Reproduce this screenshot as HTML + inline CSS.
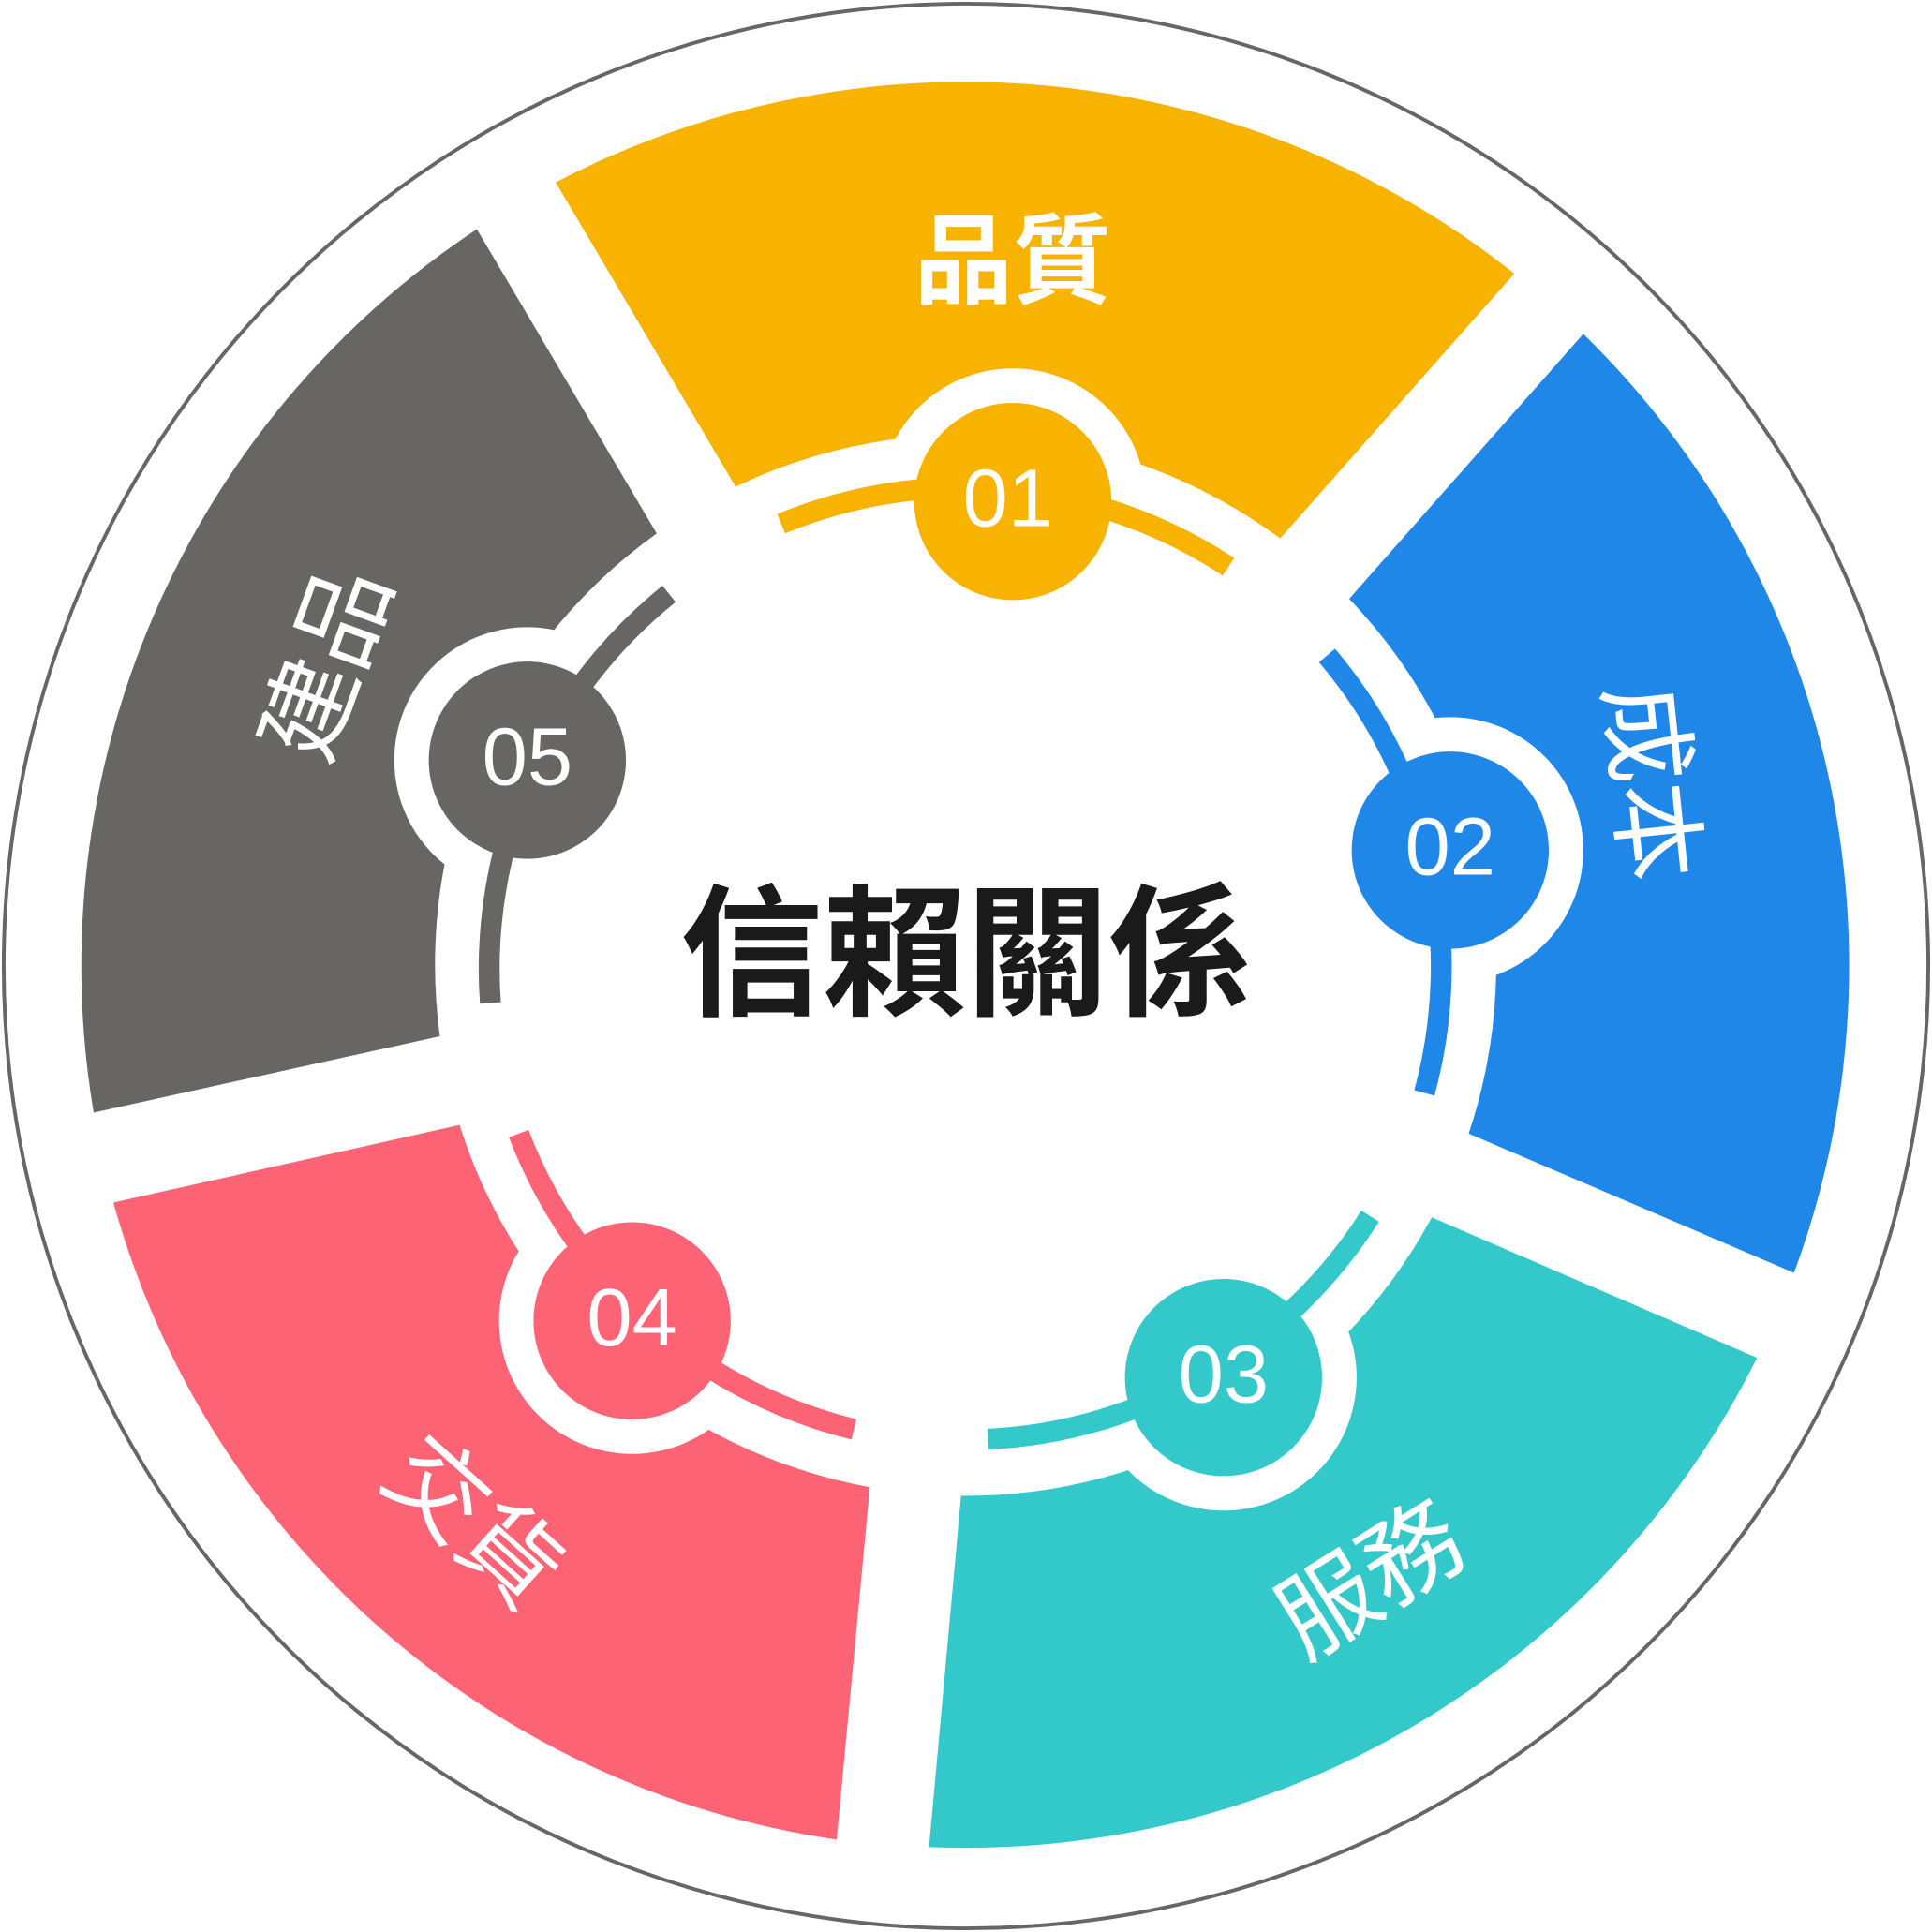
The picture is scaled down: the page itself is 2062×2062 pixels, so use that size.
<!DOCTYPE html>
<html><head><meta charset="utf-8"><style>html,body{margin:0;padding:0;background:#fff}svg{display:block}</style></head>
<body>
<svg width="2062" height="2062" viewBox="0 0 1568 1568" xmlns="http://www.w3.org/2000/svg">
<circle cx="784" cy="784" r="781" fill="#fff" stroke="#666" stroke-width="3"/>
<path d="M451,148 A717,717 0 0 1 1229,222 L1039,437 A430,430 0 0 0 597,395 Z" fill="#F8B200"/>
<path d="M1285,271 A717,717 0 0 1 1456,1033 L1192,920 A430,430 0 0 0 1095,486 Z" fill="#1F87E8"/>
<path d="M1426,1102 A717,717 0 0 1 754,1499 L780,1214 A430,430 0 0 0 1162,988 Z" fill="#33C9CA"/>
<path d="M679,1493 A717,717 0 0 1 92,976 L373,913 A430,430 0 0 0 706,1207 Z" fill="#FC6476"/>
<path d="M76,903 A717,717 0 0 1 387,186 L533,433 A430,430 0 0 0 357,841 Z" fill="#686664"/>
<g fill="#fff">
<circle cx="822" cy="407" r="108"/><circle cx="1177" cy="690" r="108"/><circle cx="993" cy="1118" r="108"/><circle cx="513" cy="1072" r="108"/><circle cx="428" cy="617" r="108"/>
</g>
<g fill="none" stroke-width="17">
<path d="M634,425 A390,390 0 0 1 997,460" stroke="#F8B200"/>
<path d="M1077,532 A390,390 0 0 1 1156,887" stroke="#1F87E8"/>
<path d="M1112,987 A390,390 0 0 1 802,1168" stroke="#33C9CA"/>
<path d="M693,1160 A390,390 0 0 1 421,920" stroke="#FC6476"/>
<path d="M398,814 A390,390 0 0 1 543,482" stroke="#686664"/>
</g>
<circle cx="822" cy="407" r="80" fill="#F8B200"/>
<circle cx="1177" cy="690" r="80" fill="#1F87E8"/>
<circle cx="993" cy="1118" r="80" fill="#33C9CA"/>
<circle cx="513" cy="1072" r="80" fill="#FC6476"/>
<circle cx="428" cy="617" r="80" fill="#686664"/>
<g fill="#fff" font-family="Liberation Sans, sans-serif" font-size="66" text-anchor="middle">
<text x="818" y="427">01</text>
<text x="1177" y="710">02</text>
<text x="993" y="1138">03</text>
<text x="513" y="1092">04</text>
<text x="428" y="637">05</text>
</g>
<g fill="#fff" font-family="Liberation Sans, 'Noto Sans CJK TC', sans-serif" font-size="80" text-anchor="middle">
<text x="822" y="240" font-weight="bold">品質</text>
<text transform="translate(1340,635) rotate(84)" y="28">成本</text>
<text transform="translate(1112,1282) rotate(-32)" y="28">服務</text>
<text transform="translate(385,1235) rotate(42)" y="28">交貨</text>
<text transform="translate(265,538) rotate(-70)" y="28">建品</text>
</g>
<text x="784" y="815" fill="#1a1a1a" font-family="Liberation Sans, 'Noto Sans CJK TC', sans-serif" font-size="116" font-weight="bold" text-anchor="middle">信賴關係</text>
</svg>
</body></html>
